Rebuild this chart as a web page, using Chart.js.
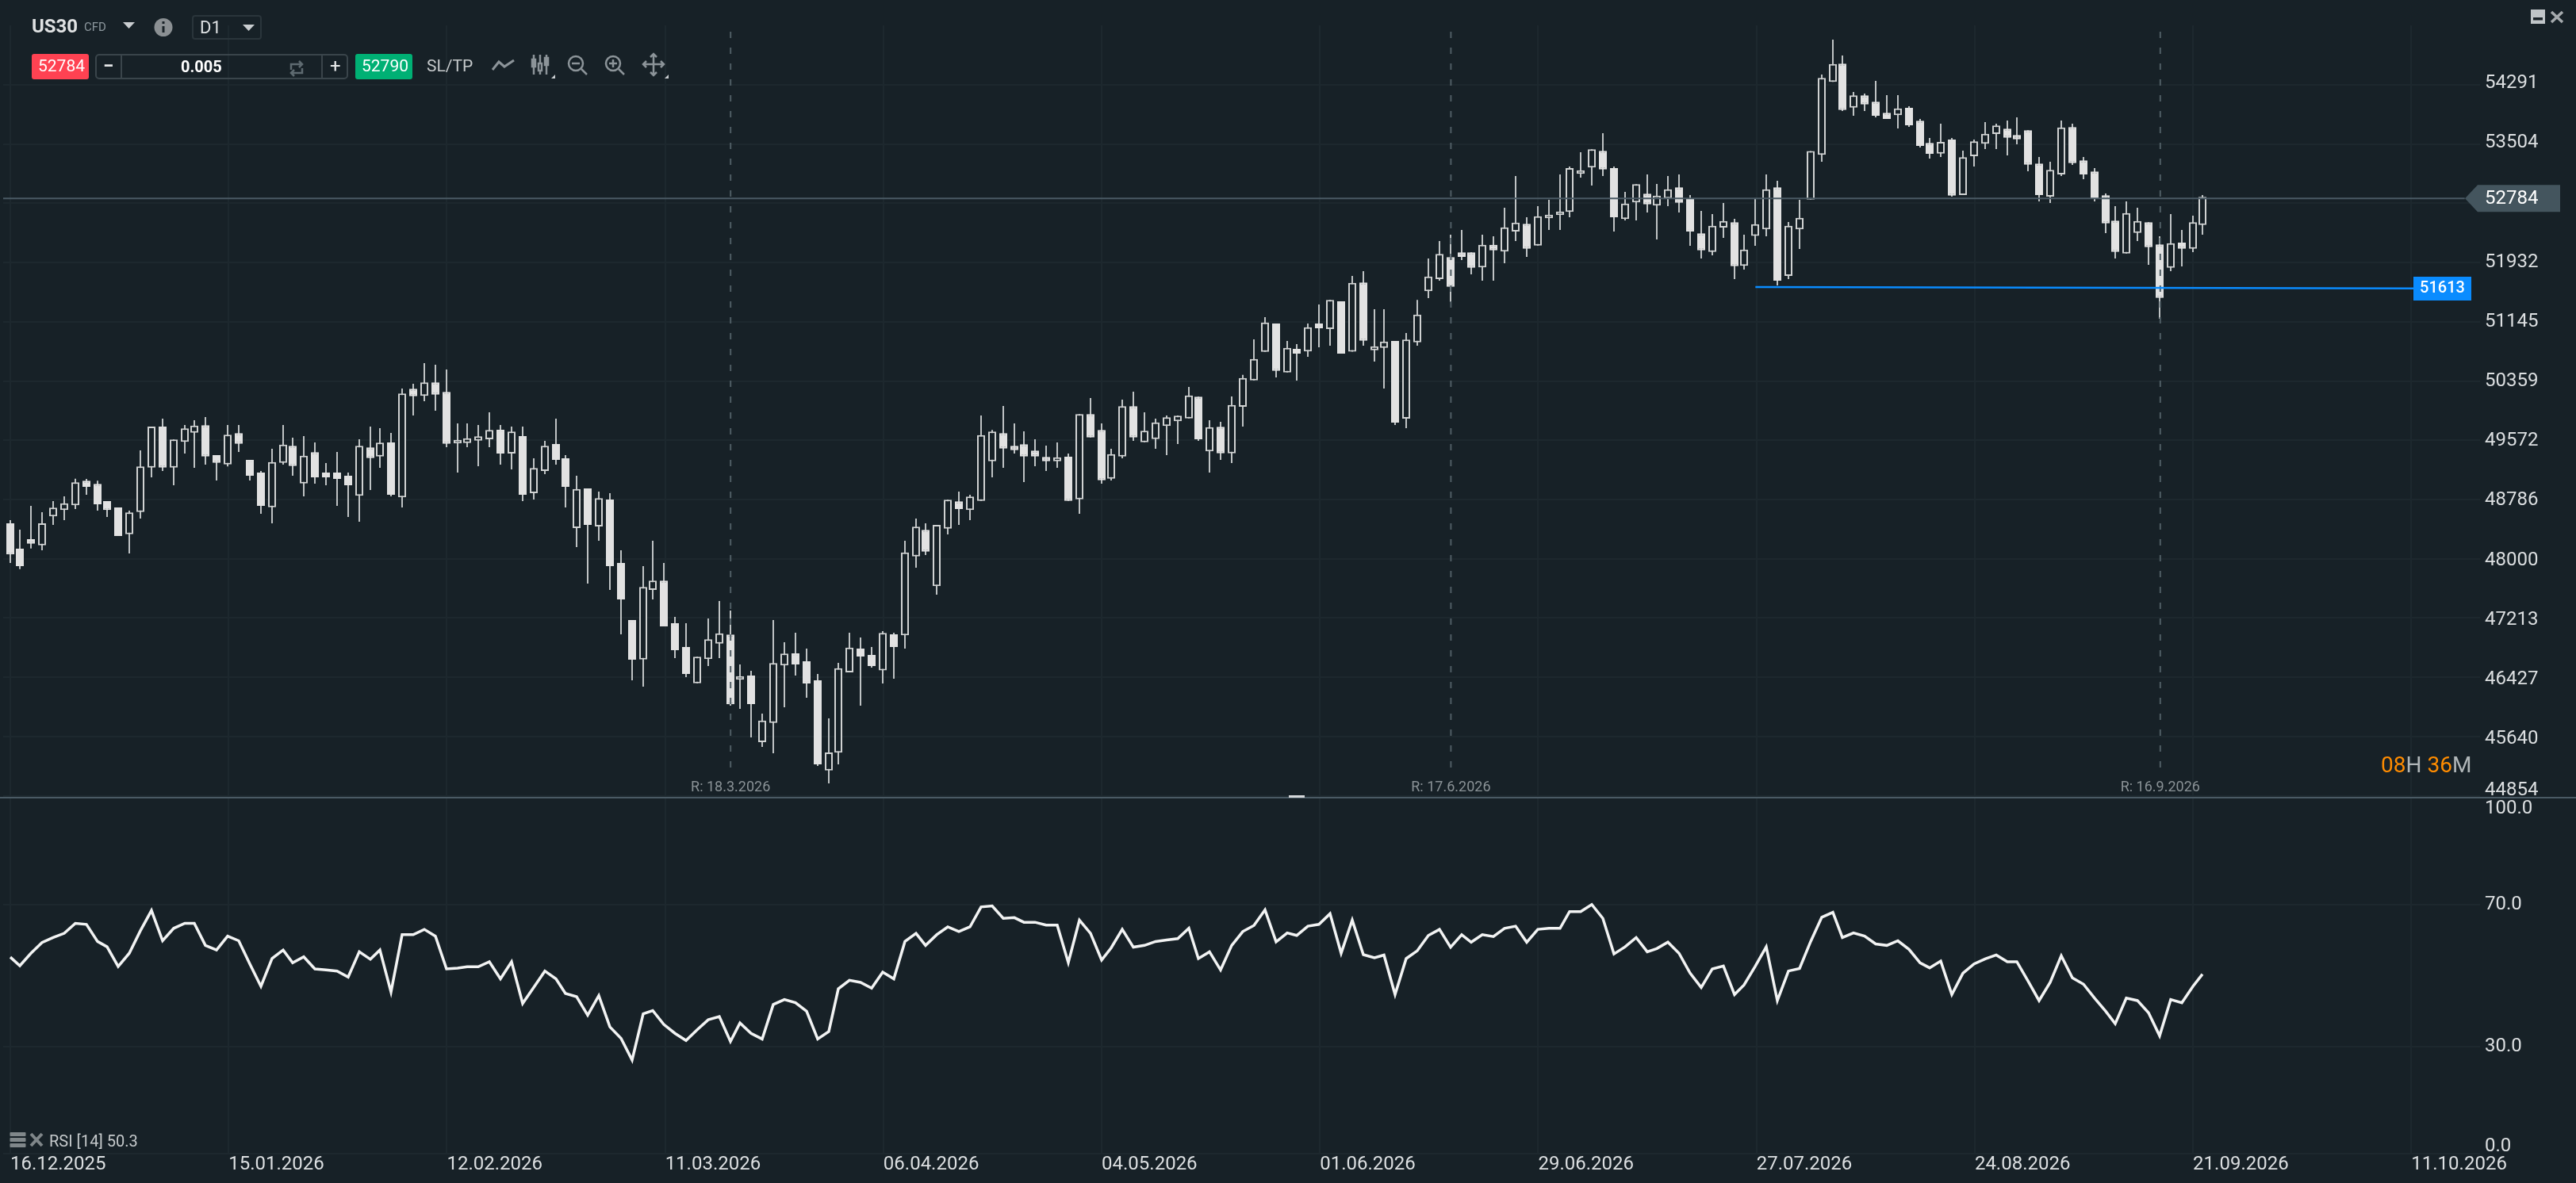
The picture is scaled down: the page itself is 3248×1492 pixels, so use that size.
<!DOCTYPE html>
<html>
<head>
<meta charset="utf-8">
<title>US30 D1</title>
<script src="https://cdn.jsdelivr.net/npm/chart.js@4/dist/chart.umd.js"></script>
<style>
    html, body { margin: 0; padding: 0; background: #172127; width: 3248px; height: 1492px; overflow: hidden; }
    body { position: relative; font-family: Roboto, sans-serif; }
    canvas { position: absolute; left: 0; display: block; }
    #mainChart { top: 0; }
    #rsiChart { top: 1006px; }
    .t { position: absolute; line-height: 1; white-space: nowrap; color: #c5c9cb; }
    .box { position: absolute; box-sizing: border-box; }
    svg { position: absolute; left: 0; top: 0; }
</style>
</head>
<body>
<canvas id="mainChart" width="3248" height="1006"></canvas>
<canvas id="rsiChart" width="3248" height="486"></canvas>

<div class="box" style="left:0;top:1005px;width:3248px;height:2px;background:#4a5a64"></div>
<div class="box" style="left:1625px;top:1003px;width:20px;height:3px;background:#d5d8da"></div>

<!-- toolbar -->
<span class="t" style="left:40px;top:21px;font-size:24px;font-weight:700;color:#e0e2e3">US30</span>
<span class="t" style="left:106px;top:27px;font-size:15px;color:#8c979d">CFD</span>
<div class="box" style="left:242px;top:19px;width:88px;height:31px;border:2px solid #2a353b;border-radius:4px"></div>
<span class="t" style="left:252px;top:24px;font-size:22px;color:#dde0e2">D1</span>

<div class="box" style="left:40px;top:68px;width:72px;height:32px;background:#ff4252;border-radius:3px"></div>
<span class="t" style="left:48px;top:73px;font-size:21px;color:#fff">52784</span>
<div class="box" style="left:120px;top:68px;width:319px;height:32px;border:2px solid #3a454b;border-radius:5px"></div>
<div class="box" style="left:152px;top:69px;width:2px;height:30px;background:#3a454b"></div>
<div class="box" style="left:405px;top:69px;width:2px;height:30px;background:#3a454b"></div>
<span class="t" style="left:130px;top:71px;font-size:24px;font-weight:700;color:#e8eaeb">−</span>
<span class="t" style="left:228px;top:74px;font-size:20px;font-weight:700;color:#fff">0.005</span>
<span class="t" style="left:416px;top:71px;font-size:24px;color:#e8eaeb">+</span>
<div class="box" style="left:448px;top:68px;width:72px;height:32px;background:#00b074;border-radius:3px"></div>
<span class="t" style="left:456px;top:73px;font-size:21px;color:#fff">52790</span>
<span class="t" style="left:538px;top:73px;font-size:21px;color:#c5c9cb">SL/TP</span>

<span class="t" style="left:62px;top:1429px;font-size:20px;color:#c5c9cb">RSI [14] 50.3</span>
<span class="t" style="left:3002px;top:951px;font-size:28px;color:#b0b6b8"><span style="color:#ff8c00">08</span>H <span style="color:#ff8c00">36</span>M</span>

<svg width="3248" height="1492" viewBox="0 0 3248 1492">
    <polygon points="155,28 170,28 162.5,36" fill="#c9cdd0"/>
    <circle cx="206" cy="34.5" r="11.5" fill="#8b9093"/>
    <rect x="204.5" y="33" width="3" height="8" fill="#1a2328"/>
    <rect x="204.5" y="27" width="3" height="3" fill="#1a2328"/>
    <polygon points="306,31 321,31 313.5,39" fill="#c9cdd0"/>
    <g fill="none" stroke="#5e6a70" stroke-width="2.5">
        <path d="M367 88 V81 H381 M377 77 L381 81 L377 85"/>
        <path d="M381 86 V92 H367 M371 88 L367 92 L371 96"/>
    </g>
    <g fill="none" stroke="#8c9499" stroke-width="2.5">
        <polyline points="621,88 629,78 636,84 648,76" stroke-width="3"/>
        <path d="M673 69 V94 M681 69 V94 M689 69 V94"/>
        <rect x="671" y="75" width="4" height="9" fill="#8c9499"/>
        <rect x="679" y="80" width="4" height="9" fill="#172127"/>
        <rect x="687" y="73" width="4" height="9" fill="#8c9499"/>
        <circle cx="726" cy="80" r="9"/>
        <path d="M733 87 L740 94 M721 80 H731"/>
        <circle cx="773" cy="80" r="9"/>
        <path d="M780 87 L787 94 M768 80 H778 M773 75 V85"/>
        <path d="M811 81 H837 M824 68 V95 M820 72 L824 68 L828 72 M820 91 L824 95 L828 91 M815 77 L811 81 L815 85 M833 77 L837 81 L833 85"/>
    </g>
    <polygon points="695,99 700,99 700,94" fill="#c9cdd0"/>
    <polygon points="838,99 843,99 843,94" fill="#c9cdd0"/>
    <rect x="3191" y="12" width="18" height="18" fill="#c0c5c8"/>
    <rect x="3194" y="22" width="12" height="3.5" fill="#1a2328"/>
    <path d="M3217 15 L3231 28 M3231 15 L3217 28" stroke="#a5aaad" stroke-width="3.5"/>
    <rect x="12.5" y="1428" width="20" height="5" rx="1" fill="#80878a"/>
    <rect x="12.5" y="1435" width="20" height="5" rx="1" fill="#80878a"/>
    <rect x="12.5" y="1442" width="20" height="5" rx="1" fill="#80878a"/>
    <path d="M39 1430 L53 1445 M53 1430 L39 1445" stroke="#7f8689" stroke-width="4"/>
</svg>

<script>
const highs = [48513,48386,48702,48618,48765,48828,49063,49060,49036,48765,48681,48639,49439,49755,49860,49583,49776,49839,49881,49376,
    49776,49776,49312,49165,49460,49776,49607,49628,49544,49270,49418,49144,49586,49755,49733,49670,50260,50323,50597,50575,
    50512,49797,49797,49776,49944,49776,49755,49755,49334,49565,49860,49376,49102,48934,48891,48870,48113,47186,47902,48239,
    47944,47228,47144,46699,47207,47439,47313,46597,46513,45944,47186,46892,47018,46808,46471,45881,46618,47018,46955,46829,
    47039,47018,48239,48534,48470,48449,48783,48891,48849,49902,49709,50028,49797,49691,49586,49502,49544,49397,49920,50133,
    49797,49460,50112,50218,49944,49860,49902,49902,50281,50152,49839,49818,50154,50442,50912,51207,51123,50891,50849,51123,
    51375,51435,51418,51754,51817,51312,51312,50891,50996,51435,51986,52218,52302,52365,52067,52302,52281,52659,53081,52533,
    52680,52765,53101,53207,53396,53435,53649,53207,52870,52972,53101,52975,53081,53101,52828,52617,52575,52723,52512,52302,
    52786,53101,53017,52470,52765,53412,54428,54891,54680,54196,54175,54343,54154,54154,54007,53838,53586,53775,53586,53417,
    53565,53796,53775,53817,53859,53688,53333,53270,53817,53775,53333,53186,52849,52680,52744,52659,52467,52281,52575,52365,
    52554,52828];
const lows = [47944,47864,48137,48113,48449,48513,48660,48849,48639,48555,48302,48071,48534,49081,49165,48976,49397,49207,49249,49039,
    49225,49418,49039,48597,48470,49249,49102,48828,48997,48976,48702,48555,48492,48913,49207,48828,48681,49902,50091,49965,
    49481,49144,49481,49228,49481,49249,49186,48765,48786,49123,49249,48681,48155,47671,48239,47586,46997,46387,46302,47460,
    47102,46681,46429,46348,46576,46681,46050,46007,45629,45503,45418,46029,46450,46155,45250,45018,45271,46492,46050,46555,
    46345,46408,46808,47881,48049,47523,48323,48449,48513,48768,49081,49207,49397,49018,49228,49165,49207,48768,48597,49611,
    48997,49039,49334,49565,49547,49460,49376,49523,49863,49565,49144,49312,49270,49755,50368,50747,50407,50473,50365,50681,
    50807,50828,50723,50749,50828,50618,50260,49776,49733,50828,51460,51691,51407,51965,51775,51691,51691,51923,52218,52007,
    52158,52365,52365,52533,53059,52954,53081,52344,52491,52491,52596,52239,52680,52596,52154,51986,52028,52259,51712,51838,
    52154,52281,51628,51712,52112,52768,53270,54330,53943,53880,53943,53859,53838,53712,53733,53459,53312,53333,52807,52828,
    53207,53438,53438,53354,53501,53144,52744,52723,53081,53228,53038,52744,52323,51986,52052,52218,51902,51186,51817,51881,
    52070,52302];
const opens = [48470,48134,48260,48179,48562,48646,48709,49036,48994,48765,48681,48326,48621,49210,49755,49210,49551,49673,49772,49376,
    49253,49667,49312,49144,48684,49274,49499,49000,49415,49144,49144,49102,48836,49478,49358,49544,48815,50257,50162,50341,
    50214,49530,49537,49568,49586,49712,49397,49628,48870,49165,49523,49334,48407,48934,48428,48786,47944,47186,46663,47586,
    47710,47144,46829,46348,46668,46874,46994,46394,46450,45566,45821,46583,46744,46639,46387,45190,45425,46492,46808,46723,
    46518,46997,46983,48032,48383,47636,48400,48762,48646,48768,49295,49667,49499,49520,49436,49351,49295,49355,48789,49920,
    49709,49063,49358,50025,49547,49589,49762,49825,49863,50152,49425,49751,49400,50018,50368,50747,51123,50473,50786,50751,
    51123,51049,51418,50749,51667,50768,50800,50891,49860,50873,51551,51712,52004,52067,52067,51867,52168,52077,52344,52446,
    52158,52519,52562,52604,53109,53193,53414,53186,52509,52730,52846,52688,52783,52930,52786,52319,52073,52396,52467,51888,
    52286,52372,52930,51754,52372,52768,53362,54330,54572,53989,54151,54067,53919,53888,53986,53814,53519,53378,53565,52828,
    53344,53509,53638,53709,53625,53688,53246,52807,53101,53730,53288,53141,52825,52488,52052,52326,52467,52172,51863,52196,
    52115,52431];
const closes = [48057,47902,48200,48470,48678,48737,49015,48955,48723,48646,48302,48615,49225,49755,49210,49583,49730,49768,49358,49274,
    49646,49526,49102,48702,49284,49516,49231,49368,49081,49081,49060,48976,49499,49337,49541,48849,50193,50158,50341,50179,
    49526,49579,49600,49625,49709,49397,49688,48849,49204,49499,49312,48955,48926,48449,48804,47902,47460,46660,47625,47710,
    47102,46786,46471,46699,46931,47011,46068,46442,46071,45853,46615,46741,46597,46345,45271,45429,46548,46821,46702,46576,
    47015,46829,48084,48425,48095,48449,48783,48660,48825,49642,49688,49463,49442,49358,49358,49295,49347,48768,49920,49611,
    49042,49389,50025,49611,49699,49810,49878,49899,50168,49586,49747,49400,50042,50400,50652,51137,50494,50800,50723,51073,
    51060,51435,50723,51663,50894,50821,50884,49807,50909,51242,51747,52046,51610,52007,51863,52168,52094,52399,52463,52115,
    52547,52568,52610,53186,53157,53435,53168,52533,52715,52972,52705,52821,52905,52726,52344,52094,52421,52484,51884,52105,
    52442,52905,51691,52421,52526,53412,54383,54568,53957,54151,54031,53880,53838,53978,53754,53480,53375,53533,52820,53330,
    53540,53641,53751,53589,53568,53231,52828,53161,53726,53252,53101,52786,52452,52073,52589,52484,52136,51463,52189,52115,
    52467,52804];
const rsiValues = [55.2,52.8,56.3,59.3,60.7,61.9,64.7,64.4,59.6,58.1,52.6,56.3,62.6,68.3,59.8,63.3,64.7,64.7,58.5,57.2,
    61.1,59.8,53.3,47.0,54.8,57.2,53.6,55.3,51.9,51.6,51.3,49.6,56.7,54.6,57.2,45.4,61.5,61.5,63.0,61.1,
    51.9,52.1,52.5,52.5,53.9,49.1,53.9,42.2,46.7,51.3,49.1,45.0,44.1,38.9,44.4,35.6,32.4,26.3,39.3,40.2,
    36.3,33.8,31.8,34.8,37.6,38.5,31.5,36.7,33.8,32.2,41.9,43.3,42.4,40.0,32.2,34.3,46.3,48.7,48.1,46.5,
    51.0,49.1,59.6,61.9,58.5,61.5,63.7,62.4,63.7,69.3,69.6,66.1,66.3,65.0,65.0,64.2,64.2,53.7,65.6,61.9,
    54.4,57.8,63.0,58.0,58.5,59.6,60.0,60.4,63.3,54.8,56.7,51.6,58.5,62.4,64.1,68.5,59.5,62.0,61.3,63.9,
    64.4,67.4,56.3,65.6,55.9,55.0,55.8,44.7,54.8,57.0,61.3,63.0,58.0,61.5,59.4,61.5,61.0,63.3,63.9,59.4,
    63.0,63.3,63.3,68.0,68.0,70.0,66.1,56.1,58.1,60.7,56.7,57.6,59.4,56.3,50.7,46.7,51.9,52.7,44.7,47.4,
    52.6,58.1,43.0,51.3,52.0,59.6,66.4,67.8,60.7,62.0,61.1,58.9,58.5,59.8,57.4,53.6,52.2,54.1,44.7,50.7,
    53.3,54.7,55.8,53.9,53.9,48.5,43.0,48.1,55.6,49.4,47.6,43.7,40.0,36.5,43.7,43.0,39.6,33.1,43.3,42.4,
    47.0,50.4];

const priceTicks = [54291,53504,52718,51932,51145,50359,49572,48786,48000,47213,46427,45640,44854];
const rsiTicks = [100,70,30,0];
const dateTicks = [0,20,40,60,80,100,120,140,160,180,200,220];
const dateLabels = ['16.12.2025','15.01.2026','12.02.2026','11.03.2026','06.04.2026','04.05.2026','01.06.2026','29.06.2026','27.07.2026','24.08.2026','21.09.2026','11.10.2026'];
const rolloverIndex = [66,132,197];
const rolloverLabels = ['R: 18.3.2026','R: 17.6.2026','R: 16.9.2026'];
const lastPrice = 52784;
const levelPrice = 51613;

const bg = '#172127';
const gridColor = '#1d282e';
const candleFill = '#e2e2e2';
const candleEdge = '#d0d2d2';
const wickColor = '#bfc3c4';
const priceLineColor = '#4a5a64';
const levelColor = '#0a8cff';

// bar slot to pixel: 13px + 13.76px per candle inside the 4..3127 plot area
const xMin = -0.654;
const xMax = 226.3;

Chart.defaults.font.family = 'Roboto, sans-serif';
Chart.defaults.animation = false;

// the platform snaps each candle on a 2px grid, so gaps go 14,14,..,12
const snapPlugin = {
    id: 'snapCandles',
    afterDatasetsUpdate(chart) {
        chart.data.datasets.forEach((ds, n) => {
            if (!ds.snap) return;
            chart.getDatasetMeta(n).data.forEach(el => {
                el.x = 2 * Math.round(el.x / 2 + 0.02) - 1;
            });
        });
    }
};

// labels may overhang the plot area, do not let them shrink it
function noLabelPadding(s) {
    s.paddingTop = 0;
    s.paddingBottom = 0;
    s.paddingLeft = 0;
    s.paddingRight = 0;
}

function xScale(showLabels) {
    return {
        type: 'linear',
        min: xMin,
        max: xMax,
        offset: false,
        afterBuildTicks: s => { s.ticks = dateTicks.map(v => ({ value: v })); },
        afterFit: s => { s.height = showLabels ? 37 : 0; noLabelPadding(s); },
        border: { display: false },
        grid: { color: gridColor, lineWidth: 2, offset: false, drawTicks: false },
        ticks: {
            display: showLabels,
            align: 'start',
            autoSkip: false,
            maxRotation: 0,
            padding: 0,
            color: '#dcdfe1',
            font: { size: 24 },
            callback: v => dateLabels[dateTicks.indexOf(v)]
        }
    };
}

function yScale(min, max, values, labelFor) {
    return {
        position: 'right',
        min: min,
        max: max,
        afterBuildTicks: s => { s.ticks = values.map(v => ({ value: v })); },
        afterFit: s => { s.width = 121; noLabelPadding(s); },
        border: { display: false },
        grid: { color: gridColor, lineWidth: 2, drawTicks: false },
        ticks: {
            autoSkip: false,
            padding: 6,
            color: '#dcdfe1',
            font: { size: 24 },
            callback: labelFor
        }
    };
}

// tags, rollover captions and price labels: the platform spaces its price
// labels 75.15px apart while the gridlines are 74.7px apart, so they drift
const mainLabels = {
    id: 'mainLabels',
    afterDraw(chart) {
        const { ctx, scales: { x, y } } = chart;
        ctx.save();
        ctx.textBaseline = 'middle';

        ctx.font = '18px Roboto';
        ctx.textAlign = 'center';
        ctx.fillStyle = '#8a9296';
        rolloverIndex.forEach((idx, n) => {
            ctx.fillText(rolloverLabels[n], x.getPixelForValue(idx), 993);
        });

        ctx.textAlign = 'left';
        ctx.font = '24px Roboto';
        ctx.fillStyle = '#dcdfe1';
        priceTicks.forEach((v, i) => {
            if (v === 52718) return; // covered by the last price tag
            const ly = v === 44854 ? 997 : 105.3 + 75.15 * i;
            ctx.fillText(String(v), 3133, ly);
        });

        const py = y.getPixelForValue(lastPrice);
        ctx.fillStyle = '#44555e';
        ctx.beginPath();
        ctx.moveTo(3108, py);
        ctx.lineTo(3124, py - 17);
        ctx.lineTo(3228, py - 17);
        ctx.lineTo(3228, py + 17);
        ctx.lineTo(3124, py + 17);
        ctx.closePath();
        ctx.fill();
        ctx.fillStyle = '#ffffff';
        ctx.fillText(String(lastPrice), 3133, py + 1);

        const ly = 364;
        ctx.fillStyle = levelColor;
        ctx.fillRect(3043, ly - 15, 73, 30);
        ctx.fillStyle = '#ffffff';
        ctx.font = '500 20px Roboto';
        ctx.textAlign = 'center';
        ctx.fillText(String(levelPrice), 3079.5, ly);
        ctx.restore();
    }
};

const rsiLabels = {
    id: 'rsiLabels',
    afterDraw(chart) {
        const { ctx } = chart;
        ctx.save();
        ctx.textBaseline = 'middle';
        ctx.textAlign = 'left';
        ctx.font = '24px Roboto';
        ctx.fillStyle = '#dcdfe1';
        ctx.fillText('100.0', 3133, 14);
        ctx.fillText('0.0', 3133, 440);
        ctx.restore();
    }
};

const rolloverLines = rolloverIndex.map(idx => ({
    type: 'line',
    data: [{ x: idx, y: 54996 }, { x: idx, y: 45229 }],
    borderColor: '#4f5d64',
    borderWidth: 2,
    borderDash: [8, 12],
    pointRadius: 0,
    order: 1
}));

const mainY = yScale(44829, 55080, priceTicks, v => String(v));
mainY.ticks.display = false;

new Chart(document.getElementById('mainChart'), {
    type: 'bar',
    data: {
        datasets: [
            {
                label: 'Last',
                type: 'line',
                data: [{ x: xMin, y: lastPrice }, { x: 224.9, y: lastPrice }],
                borderColor: priceLineColor,
                borderWidth: 2,
                pointRadius: 0,
                order: 0
            },
            {
                label: 'Level',
                type: 'line',
                data: [{ x: 159.9, y: 51607 }, { x: 220.2, y: 51589 }],
                borderColor: levelColor,
                borderWidth: 2.5,
                pointRadius: 0,
                order: 0
            },
            ...rolloverLines,
            {
                label: 'Body',
                snap: true,
                data: highs.map((_, i) => ({ x: i, y: [opens[i], closes[i]] })),
                grouped: false,
                barThickness: 10,
                inflateAmount: 0,
                borderSkipped: false,
                borderWidth: 2,
                backgroundColor: c => closes[c.dataIndex] >= opens[c.dataIndex] ? bg : candleFill,
                borderColor: c => closes[c.dataIndex] >= opens[c.dataIndex] ? candleEdge : candleFill,
                order: 3
            },
            {
                label: 'Wick',
                snap: true,
                data: highs.map((_, i) => ({ x: i, y: [lows[i], highs[i]] })),
                grouped: false,
                barThickness: 2,
                inflateAmount: 0,
                backgroundColor: wickColor,
                order: 4
            }
        ]
    },
    options: {
        responsive: false,
        devicePixelRatio: 1,
        layout: { padding: { top: 32, left: 4 } },
        plugins: { legend: { display: false }, tooltip: { enabled: false } },
        scales: {
            x: xScale(false),
            y: mainY
        }
    },
    plugins: [snapPlugin, mainLabels]
});

new Chart(document.getElementById('rsiChart'), {
    type: 'line',
    data: {
        datasets: [{
            label: 'RSI [14]',
            snap: true,
            data: rsiValues.map((v, i) => ({ x: i, y: v })),
            borderColor: '#f2f3f3',
            borderWidth: 3.5,
            pointRadius: 0,
            tension: 0
        }]
    },
    options: {
        responsive: false,
        devicePixelRatio: 1,
        layout: { padding: { left: 4 } },
        plugins: { legend: { display: false }, tooltip: { enabled: false } },
        scales: {
            x: xScale(true),
            y: yScale(0, 100, rsiTicks, v => (v === 100 || v === 0) ? '' : v.toFixed(1))
        }
    },
    plugins: [snapPlugin, rsiLabels]
});
</script>
</body>
</html>
